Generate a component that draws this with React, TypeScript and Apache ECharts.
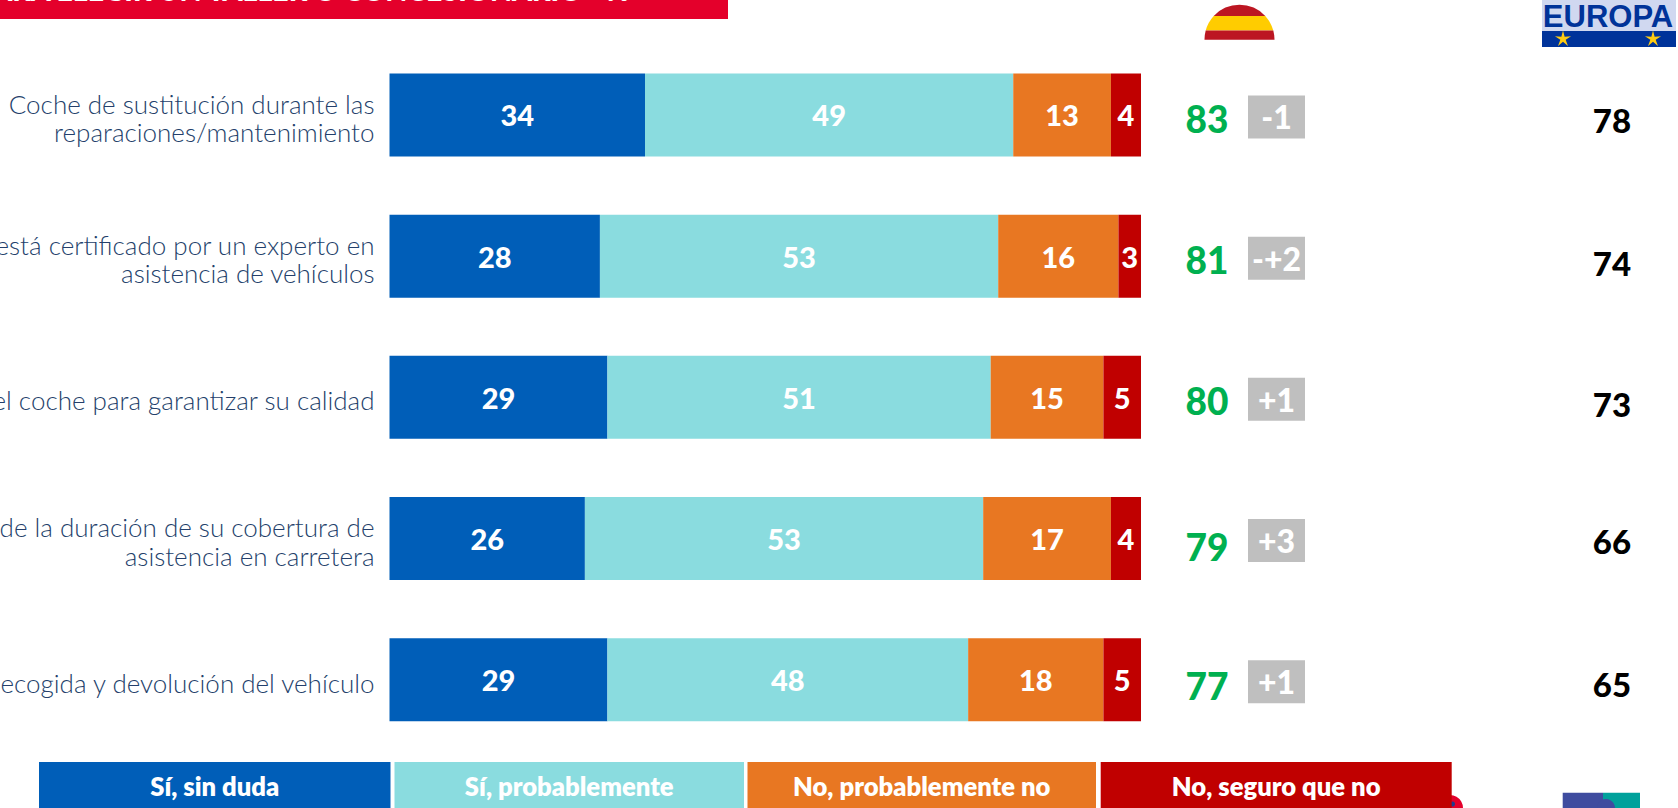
import React, { useEffect, useRef } from "react";
import * as echarts from "echarts";

const categories = [
  "Coche de sustitución durante las\nreparaciones/mantenimiento",
  "está certificado por un experto en\nasistencia de vehículos",
  "el coche para garantizar su calidad",
  "de la duración de su cobertura de\nasistencia en carretera",
  "ecogida y devolución del vehículo",
];
const siSinDuda = [34, 28, 29, 26, 29];
const siProbablemente = [49, 53, 51, 53, 48];
const noProbablemente = [13, 16, 15, 17, 18];
const noSeguro = [4, 3, 5, 4, 5];
const totalEspana = [83, 81, 80, 79, 77];
const deltas = ["-1", "-+2", "+1", "+3", "+1"];
const totalEuropa = [78, 74, 73, 66, 65];
const legendNames = ["Sí, sin duda", "Sí, probablemente", "No, probablemente no", "No, seguro que no"];
const titleText = "PARA ELEGIR UN TALLER O CONCESIONARIO - %";

const BLUE = "#005EB8";
const TEAL = "#8ADCDF";
const ORANGE = "#E87722";
const RED = "#C00000";
const GREEN = "#00B050";
const GREY = "#BFBFBF";
const barFont = "Lato";
const W = 1678;
const H = 808;

const legendBoxes = [
  [39, 351.5],
  [394.5, 349.5],
  [747.5, 348.5],
  [1100.7, 351],
];
const legendColors = [BLUE, TEAL, ORANGE, RED];
const espanaNudge = [4, 3, 3, 8, 6];
const europaNudge = [5, 7, 7, 2, 4];

echarts.graphic.registerShape("flagTop", echarts.graphic.extendPath("M1213.7 16 A35 35 0 0 1 1265.3 16 Z", {}));
echarts.graphic.registerShape("flagMid", echarts.graphic.extendPath("M1213.7 16 L1265.3 16 A35 35 0 0 1 1273.3 30.5 L1205.7 30.5 A35 35 0 0 1 1213.7 16 Z", {}));
echarts.graphic.registerShape("flagLow", echarts.graphic.extendPath("M1205.7 30.5 L1273.3 30.5 A35 35 0 0 1 1274.5 39.7 L1204.5 39.7 A35 35 0 0 1 1205.7 30.5 Z", {}));

function star(cx: number, cy: number, rOut: number, rIn: number) {
  const pts: number[][] = [];
  for (let i = 0; i < 10; i++) {
    const r = i % 2 === 0 ? rOut : rIn;
    const a = -Math.PI / 2 + (i * Math.PI) / 5;
    pts.push([cx + r * Math.cos(a), cy + r * Math.sin(a)]);
  }
  return pts;
}

function barSeries(name: string, values: number[], color: string) {
  return {
    name,
    type: "bar",
    stack: "total",
    barWidth: 83,
    xAxisIndex: 0,
    yAxisIndex: 0,
    data: values,
    itemStyle: { color },
    label: {
      show: true,
      position: "inside",
      color: "#fff",
      fontFamily: barFont,
      fontWeight: 900,
      fontSize: 29,
    },
  };
}

export default function App() {
  const ref = useRef<HTMLDivElement>(null);
  useEffect(() => {
    document.body.style.margin = "0";
    const chart = echarts.init(ref.current!, undefined, { renderer: "svg" });
    const option: any = {
      animation: false,
      backgroundColor: "#fff",
      grid: [
        { left: 389.5, top: 44.4, width: 751.5, height: 705.9, outerBoundsMode: "none" },
        { left: 1141, top: 44.4, width: 537, height: 705.9, outerBoundsMode: "none" },
        { left: 389.5, top: 47.4, width: 751.5, height: 705.9, outerBoundsMode: "none" },
      ],
      xAxis: [
        { type: "value", min: 0, max: 100, show: false, gridIndex: 0 },
        { type: "value", min: 0, max: 537, show: false, gridIndex: 1 },
        { type: "value", min: 0, max: 100, show: false, gridIndex: 2 },
      ],
      yAxis: [
        { type: "category", inverse: true, gridIndex: 0, show: false, data: categories },
        { type: "category", inverse: true, gridIndex: 1, show: false, data: categories },
        {
          type: "category",
          inverse: true,
          gridIndex: 2,
          data: categories,
          axisLine: { show: false },
          axisTick: { show: false },
          axisLabel: {
            color: "#243F6B",
            fontFamily: "Lato",
            fontWeight: 300,
            fontSize: 26,
            lineHeight: 28.5,
            margin: 15,
            align: "right",
          },
        },
      ],
      series: [
        barSeries(legendNames[0], siSinDuda, BLUE),
        barSeries(legendNames[1], siProbablemente, TEAL),
        barSeries(legendNames[2], noProbablemente, ORANGE),
        barSeries(legendNames[3], noSeguro, RED),
        {
          type: "scatter",
          name: "España",
          xAxisIndex: 1,
          yAxisIndex: 1,
          symbolSize: 1,
          itemStyle: { color: "transparent", opacity: 1 },
          data: totalEspana.map((v, i) => ({
            value: [66, i],
            name: String(v),
            label: { offset: [0, espanaNudge[i]] },
          })),
          label: {
            show: true,
            position: "inside",
            formatter: (p: any) => p.name,
            color: GREEN,
            fontFamily: barFont,
            fontWeight: 900,
            fontSize: 37,
          },
        },
        {
          type: "scatter",
          name: "Delta",
          xAxisIndex: 1,
          yAxisIndex: 1,
          symbol: "rect",
          symbolSize: [57, 43],
          itemStyle: { color: GREY, opacity: 1 },
          data: deltas.map((d, i) => ({ value: [135.5, i], name: d, symbolOffset: [0, 2] })),
          label: {
            show: true,
            position: "inside",
            formatter: (p: any) => p.name,
            color: "#fff",
            fontFamily: barFont,
            fontWeight: 900,
            fontSize: 32,
          },
        },
        {
          type: "scatter",
          name: "Europa",
          xAxisIndex: 1,
          yAxisIndex: 1,
          symbolSize: 1,
          itemStyle: { color: "transparent", opacity: 1 },
          data: totalEuropa.map((v, i) => ({
            value: [471, i],
            name: String(v),
            label: { offset: [0, europaNudge[i]] },
          })),
          label: {
            show: true,
            position: "inside",
            formatter: (p: any) => p.name,
            color: "#000",
            fontFamily: barFont,
            fontWeight: 900,
            fontSize: 33,
          },
        },
      ],
      graphic: [
        { type: "rect", silent: true, shape: { x: 0, y: 0, width: 728, height: 19 }, style: { fill: "#E4002B" } },
        {
          type: "text",
          silent: true,
          x: 630,
          y: 4,
          style: {
            text: titleText,
            fill: "#fff",
            align: "right",
            verticalAlign: "bottom",
            font: "900 28.5px Lato",
          },
        },
        { type: "flagTop", silent: true, style: { fill: "#BC1622" } },
        { type: "flagMid", silent: true, style: { fill: "#FFCC00" } },
        { type: "flagLow", silent: true, style: { fill: "#BC1622" } },
        { type: "rect", silent: true, shape: { x: 1542, y: 0, width: 134, height: 31 }, style: { fill: "#D0D8F0" } },
        { type: "rect", silent: true, shape: { x: 1542, y: 31, width: 134, height: 16 }, style: { fill: "#00339A" } },
        {
          type: "text",
          silent: true,
          x: 1608,
          y: 16.5,
          style: {
            text: "EUROPA",
            fill: "#003399",
            align: "center",
            verticalAlign: "middle",
            font: "700 31px 'Liberation Sans'",
          },
        },
        { type: "polygon", silent: true, shape: { points: star(1563, 39, 8.5, 2.8) }, style: { fill: "#FFCC11" } },
        { type: "polygon", silent: true, shape: { points: star(1653, 39, 8.5, 2.8) }, style: { fill: "#FFCC11" } },
        { type: "circle", silent: true, shape: { cx: 1450, cy: 808, r: 13 }, style: { fill: "#E4002B" } },
        { type: "circle", silent: true, shape: { cx: 1452.5, cy: 804, r: 2.5 }, style: { fill: "#1F3C90" } },
        { type: "rect", silent: true, shape: { x: 1562.7, y: 792.7, width: 40.3, height: 16 }, style: { fill: "#3F4C9F" } },
        { type: "rect", silent: true, shape: { x: 1603, y: 792.7, width: 37, height: 16 }, style: { fill: "#00A19B" } },
        { type: "circle", silent: true, shape: { cx: 1606, cy: 808, r: 9 }, style: { fill: "#3F4C9F" } },
        ...legendBoxes.flatMap(([x, w], i) => [
          { type: "rect", silent: true, shape: { x, y: 762, width: w, height: 46 }, style: { fill: legendColors[i] } },
          {
            type: "text",
            silent: true,
            x: x + w / 2,
            y: 786,
            style: {
              text: legendNames[i],
              fill: "#fff",
              align: "center",
              verticalAlign: "middle",
              font: "800 25.6px Lato",
            },
          },
        ]),
      ],
    };
    chart.setOption(option);
    return () => chart.dispose();
  }, []);
  return (
    <div
      ref={ref}
      style={{ position: "absolute", left: 0, top: 0, width: W, height: H, overflow: "hidden" }}
    />
  );
}
